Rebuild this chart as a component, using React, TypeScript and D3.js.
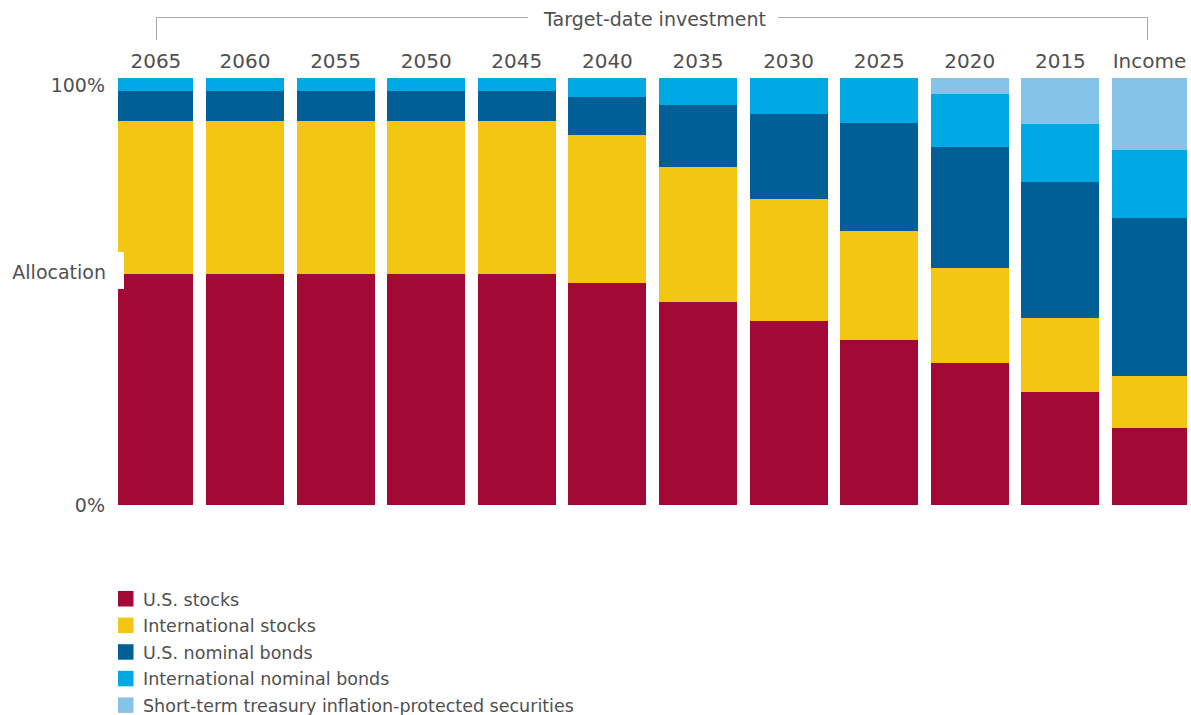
import React from "react";
import * as d3 from "d3";

const categories = ["2065", "2060", "2055", "2050", "2045", "2040", "2035", "2030", "2025", "2020", "2015", "Income"];
const seriesNames = [
  "U.S. stocks",
  "International stocks",
  "U.S. nominal bonds",
  "International nominal bonds",
  "Short-term treasury inflation-protected securities",
];
const usStocks = [54.1, 54.1, 54.1, 54.1, 54.1, 52.0, 47.5, 43.1, 38.6, 33.3, 26.5, 18.0];
const intlStocks = [35.8, 35.8, 35.8, 35.8, 35.8, 34.7, 31.6, 28.6, 25.5, 22.2, 17.3, 12.2];
const usBonds = [7.0, 7.0, 7.0, 7.0, 7.0, 8.9, 14.5, 19.9, 25.3, 28.3, 31.9, 37.0];
const intlBonds = [3.1, 3.1, 3.1, 3.1, 3.1, 4.4, 6.4, 8.4, 10.6, 12.4, 13.6, 15.9];
const tips = [0, 0, 0, 0, 0, 0, 0, 0, 0, 3.8, 10.7, 16.9];
const colors = ["#a20a35", "#f3c614", "#005f96", "#00a9e4", "#86c3e8"];
const yTickLabels = ["0%", "100%"];

const W = 1191;
const H = 715;
const FONT = "'DejaVu Sans', sans-serif";
const TEXT = "#505050";

export default function App() {
  const rows = categories.map((c, i) => ({
    cat: c,
    s0: usStocks[i],
    s1: intlStocks[i],
    s2: usBonds[i],
    s3: intlBonds[i],
    s4: tips[i],
  }));
  const keys = ["s0", "s1", "s2", "s3", "s4"];
  const stack = d3.stack<any>().keys(keys)(rows);

  const clipL = 118, clipR = 1187;
  const x = d3.scaleBand<string>().domain(categories).range([115.4, 1190]).paddingInner(0.1391).paddingOuter(0);
  const y = d3.scaleLinear().domain([0, 100]).range([505, 78]);

  return (
    <svg width={W} height={H} style={{ display: "block", position: "absolute", left: 0, top: 0 }}>
      <defs>
        <clipPath id="plotClip">
          <rect x={clipL} y={0} width={clipR - clipL} height={H} />
        </clipPath>
      </defs>
      <g clipPath="url(#plotClip)">
        {stack.map((layer, li) => (
          <g key={li} fill={colors[li]}>
            {layer.map((d, i) => {
              const h = y(d[0]) - y(d[1]);
              if (h <= 0) return null;
              return (
                <rect
                  key={i}
                  x={x(categories[i])}
                  y={y(d[1])}
                  width={x.bandwidth()}
                  height={h}
                  shapeRendering="crispEdges"
                />
              );
            })}
          </g>
        ))}
      </g>
      {/* category labels */}
      {categories.map((c) => (
        <text
          key={c}
          x={(x(c) as number) + x.bandwidth() / 2 + (c === categories[0] ? 1.5 : c === "Income" ? -1.5 : 0)}
          y={68}
          textAnchor="middle"
          fontFamily={FONT}
          fontSize={20}
          fill={TEXT}
        >
          {c}
        </text>
      ))}
      {/* bracket */}
      <path
        d={`M156,40V17H528M778,17H1147.5V40`}
        fill="none"
        stroke="#aaa"
        strokeWidth={1}
        shapeRendering="crispEdges"
      />
      <text x={655} y={26} textAnchor="middle" fontFamily={FONT} fontSize={19} fill={TEXT}>
        Target-date investment
      </text>
      {/* y labels */}
      <text x={105} y={y(100) + 14} textAnchor="end" fontFamily={FONT} fontSize={19} fill={TEXT}>
        {yTickLabels[1]}
      </text>
      <text x={105} y={y(0) + 7} textAnchor="end" fontFamily={FONT} fontSize={19} fill={TEXT}>
        {yTickLabels[0]}
      </text>
      <rect x={0} y={252} width={124} height={37} fill="#fff" />
      <text x={106} y={279} textAnchor="end" fontFamily={FONT} fontSize={19} fill={TEXT}>
        Allocation
      </text>
      {/* legend */}
      {seriesNames.map((n, i) => (
        <g key={n} transform={`translate(118, ${591 + i * 26.6})`}>
          <rect x={0} y={0} width={15.5} height={15.5} fill={colors[i]} />
          <text x={25} y={14.5} fontFamily={FONT} fontSize={17.5} fill={TEXT}>
            {n}
          </text>
        </g>
      ))}
    </svg>
  );
}
